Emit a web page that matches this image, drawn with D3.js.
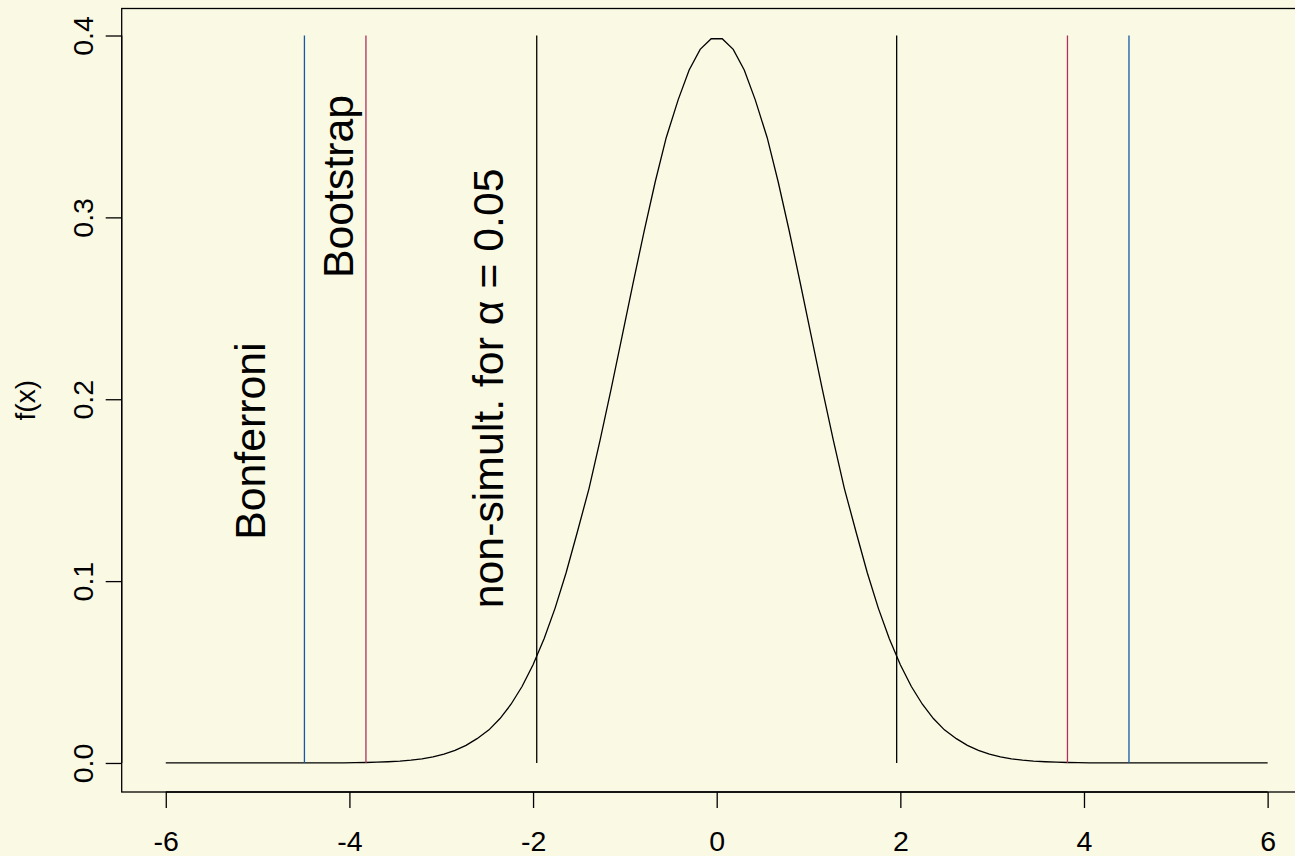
<!DOCTYPE html>
<html>
<head>
<meta charset="utf-8">
<script src="https://cdn.jsdelivr.net/npm/d3@7"></script>
<style>
  body { margin: 0; background: #faf9e4; }
  text { font-family: "Liberation Sans", Arial, sans-serif; fill: #000; }
</style>
</head>
<body>
<div id="chart"></div>
<script>
// density curve (100 points from -6 to 6)
const xs = [
  -6.00, -5.88, -5.76, -5.64, -5.52, -5.39, -5.27, -5.15, -5.03, -4.91,
  -4.79, -4.67, -4.55, -4.42, -4.30, -4.18, -4.06, -3.94, -3.82, -3.70,
  -3.58, -3.45, -3.33, -3.21, -3.09, -2.97, -2.85, -2.73, -2.61, -2.48,
  -2.36, -2.24, -2.12, -2.00, -1.88, -1.76, -1.64, -1.52, -1.39, -1.27,
  -1.15, -1.03, -0.91, -0.79, -0.67, -0.55, -0.42, -0.30, -0.18, -0.06,
  0.06, 0.18, 0.30, 0.42, 0.55, 0.67, 0.79, 0.91, 1.03, 1.15,
  1.27, 1.39, 1.52, 1.64, 1.76, 1.88, 2.00, 2.12, 2.24, 2.36,
  2.48, 2.61, 2.73, 2.85, 2.97, 3.09, 3.21, 3.33, 3.45, 3.58,
  3.70, 3.82, 3.94, 4.06, 4.18, 4.30, 4.42, 4.55, 4.67, 4.79,
  4.91, 5.03, 5.15, 5.27, 5.39, 5.52, 5.64, 5.76, 5.88, 6.00
]
const fx = [
  0, 0, 0, 0, 0, 0, 0, 0, 0, 0,
  0, 0, 0.00001, 0.00002, 0.00004, 0.00006, 0.00010, 0.00017, 0.00027, 0.00043,
  0.00067, 0.00102, 0.00154, 0.00229, 0.00336, 0.00485, 0.00690, 0.00968, 0.01337, 0.01820,
  0.02442, 0.03229, 0.04206, 0.05399, 0.06831, 0.08515, 0.10459, 0.12659, 0.15100, 0.17749,
  0.20558, 0.23464, 0.26392, 0.29250, 0.31945, 0.34380, 0.36461, 0.38104, 0.39240, 0.39821,
  0.39821, 0.39240, 0.38104, 0.36461, 0.34380, 0.31945, 0.29250, 0.26392, 0.23464, 0.20558,
  0.17749, 0.15100, 0.12659, 0.10459, 0.08515, 0.06831, 0.05399, 0.04206, 0.03229, 0.02442,
  0.01820, 0.01337, 0.00968, 0.00690, 0.00485, 0.00336, 0.00229, 0.00154, 0.00102, 0.00067,
  0.00043, 0.00027, 0.00017, 0.00010, 0.00006, 0.00004, 0.00002, 0.00001, 0, 0,
  0, 0, 0, 0, 0, 0, 0, 0, 0, 0
]

// critical values drawn as vertical lines
const cutNames = ['non-simult.', 'Bootstrap', 'Bonferroni']
const cutValues = [1.96, 3.82, 4.49]
const cutColors = ['#000000', '#b03060', '#1458a6']
const lineTop = 0.4

// rotated labels: text, x, y in data units
const labels = [
  { text: 'Bonferroni', x: -5.09, y: 0.177 },
  { text: 'Bootstrap', x: -4.13, y: 0.317 },
  { text: 'non-simult. for \u03b1 = 0.05', x: -2.50, y: 0.206 }
]

const xTicks = [-6, -4, -2, 0, 2, 4, 6]
const yTicks = [0, 0.1, 0.2, 0.3, 0.4]

const width = 1295
const height = 856
const axisFont = '28.5px'

const svg = d3.select('#chart')
  .append('svg')
  .attr('width', width)
  .attr('height', height)

svg.append('rect')
  .attr('width', width)
  .attr('height', height)
  .attr('fill', '#faf9e4')

// R style: ranges padded by 4%
const x = d3.scaleLinear().domain([-6.48, 6.48]).range([121.7, 1311.7])
const y = d3.scaleLinear().domain([-0.01596, 0.41485]).range([792, 8.5])

// plot box
svg.append('rect')
  .attr('x', x(-6.48))
  .attr('y', y(0.41485))
  .attr('width', x(6.48) - x(-6.48))
  .attr('height', y(-0.01596) - y(0.41485))
  .attr('fill', 'none')
  .attr('stroke', '#000')
  .attr('stroke-width', 1.3)

// x axis
const xAxis = svg.append('g')
  .attr('transform', `translate(0, ${y(-0.01596)})`)
  .call(d3.axisBottom(x).tickValues(xTicks).tickSize(16).tickPadding(23)
    .tickFormat(d => String(d)))
xAxis.select('.domain').attr('d', `M${x(-6)},0H${x(6)}`).attr('stroke-width', 1.3)
xAxis.selectAll('.tick line').attr('stroke-width', 1.3)
xAxis.selectAll('.tick text')
  .style('font-size', axisFont)
  .style('font-family', '"Liberation Sans", Arial, sans-serif')

// y axis, labels rotated like R's las = 0
const yAxis = svg.append('g')
  .attr('transform', `translate(${x(-6.48)}, 0)`)
  .call(d3.axisLeft(y).tickValues(yTicks).tickSize(16).tickFormat(d3.format('.1f')))
yAxis.select('.domain').attr('d', `M0,${y(0)}V${y(0.4)}`).attr('stroke-width', 1.3)
yAxis.selectAll('.tick line').attr('stroke-width', 1.3)
yAxis.selectAll('.tick text')
  .attr('x', null)
  .attr('dy', null)
  .attr('text-anchor', 'middle')
  .attr('transform', 'translate(-28.5, 0) rotate(-90)')
  .style('font-size', axisFont)
  .style('font-family', '"Liberation Sans", Arial, sans-serif')

// y label
svg.append('text')
  .attr('transform', `translate(35, ${(y(0.41485) + y(-0.01596)) / 2}) rotate(-90)`)
  .attr('text-anchor', 'middle')
  .style('font-size', '28px')
  .text('f(x)')

// density curve
const pts = xs.map((d, i) => [d, fx[i]])
svg.append('path')
  .datum(pts)
  .attr('fill', 'none')
  .attr('stroke', '#000')
  .attr('stroke-width', 1.3)
  .attr('d', d3.line().x(d => x(d[0])).y(d => y(d[1])))

// vertical cut lines on both sides
cutValues.forEach((v, i) => {
  [-v, v].forEach(c => {
    svg.append('line')
      .attr('x1', x(c)).attr('x2', x(c))
      .attr('y1', y(0)).attr('y2', y(lineTop))
      .attr('stroke', cutColors[i])
      .attr('stroke-width', 1.3)
  })
})

// labels
svg.selectAll('.lab')
  .data(labels)
  .join('text')
  .attr('class', 'lab')
  .attr('transform', d => `translate(${x(d.x)}, ${y(d.y)}) rotate(-90)`)
  .attr('text-anchor', 'middle')
  .attr('dy', '0.36em')
  .style('font-size', '42.8px')
  .text(d => d.text)
</script>
</body>
</html>
